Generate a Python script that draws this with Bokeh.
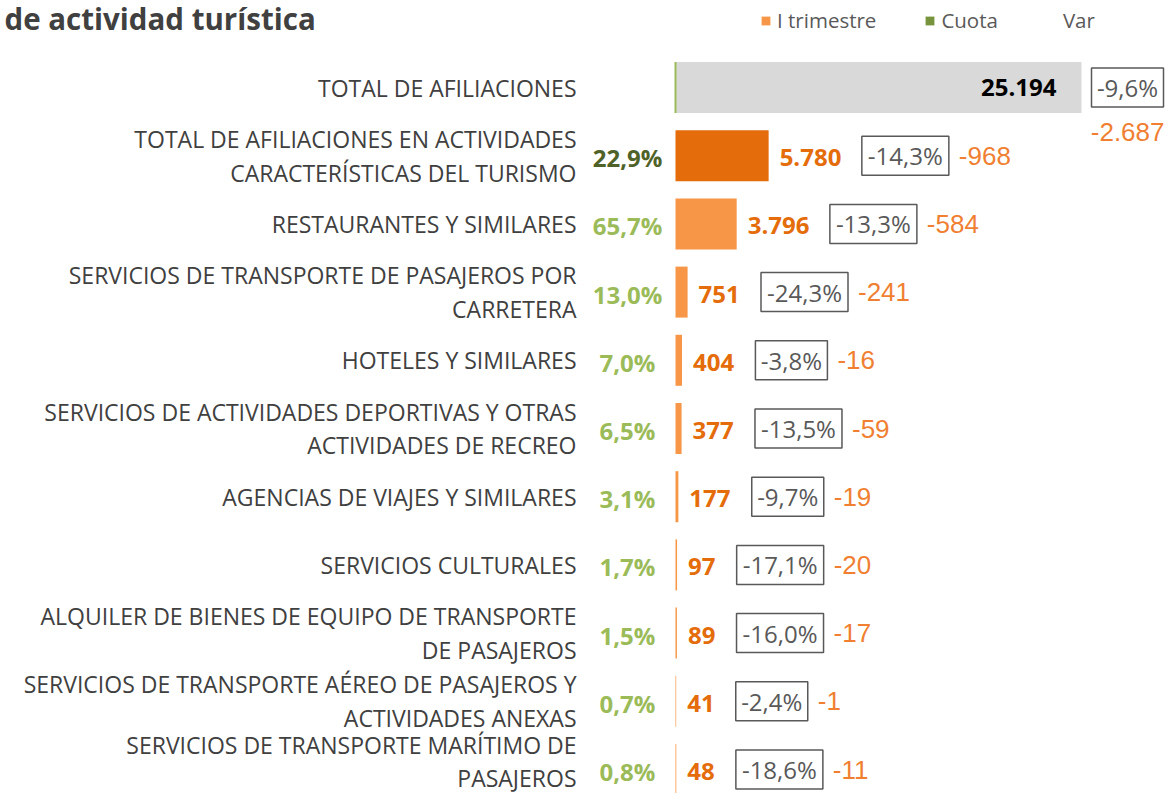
from bokeh.plotting import figure
from bokeh.models import Range1d, Label, Legend, LegendItem, ColumnDataSource
from bokeh.core.properties import value
from bokeh.embed import file_html
from bokeh.resources import INLINE

# ---------------- data ----------------
categories = [
    "TOTAL DE AFILIACIONES",
    "TOTAL DE AFILIACIONES EN ACTIVIDADES\nCARACTERÍSTICAS DEL TURISMO",
    "RESTAURANTES Y SIMILARES",
    "SERVICIOS DE TRANSPORTE DE PASAJEROS POR\nCARRETERA",
    "HOTELES Y SIMILARES",
    "SERVICIOS DE ACTIVIDADES DEPORTIVAS Y OTRAS\nACTIVIDADES DE RECREO",
    "AGENCIAS DE VIAJES Y SIMILARES",
    "SERVICIOS CULTURALES",
    "ALQUILER DE BIENES DE EQUIPO DE TRANSPORTE\nDE PASAJEROS",
    "SERVICIOS DE TRANSPORTE AÉREO DE PASAJEROS Y\nACTIVIDADES ANEXAS",
    "SERVICIOS DE TRANSPORTE MARÍTIMO DE\nPASAJEROS",
]
afiliados = [25194, 5780, 3796, 751, 404, 377, 177, 97, 89, 41, 48]   # I trimestre
cuota = [None, 22.9, 65.7, 13.0, 7.0, 6.5, 3.1, 1.7, 1.5, 0.7, 0.8]   # %
var_pct = [-9.6, -14.3, -13.3, -24.3, -3.8, -13.5, -9.7, -17.1, -16.0, -2.4, -18.6]
var_abs = [-2687, -968, -584, -241, -16, -59, -19, -20, -17, -1, -11]
title_text = "de actividad turística"
legend_labels = ["I trimestre", "Cuota", "Var"]


def fmt_int(n):
    return f"{n:,}".replace(",", ".")


def fmt_pct(v):
    return f"{v:.1f}".replace(".", ",") + "%"


# ---------------- layout ----------------
W, H = 1166, 793
n = len(categories)
idx = list(range(n))

zero_px = 675          # frame x of the value axis origin
full_px = 406          # pixel length of the largest bar
upp = afiliados[0] / full_px  # data units per pixel
x0 = -zero_px * upp
x_range = Range1d(x0, x0 + W * upp)

row_px = 68.2
top_px = 87
y_top = -top_px / row_px
y_range = Range1d(y_top + H / row_px, y_top)

p = figure(width=W, height=H, x_range=x_range, y_range=y_range,
           output_backend="svg", toolbar_location=None, min_border=0)
p.axis.visible = False
p.grid.visible = False
p.outline_line_color = None
p.background_fill_color = "white"

FONT_NAME = "Open Sans"
FONT = value(FONT_NAME)
NUM_FONT = value("Liberation Sans")

# bars
bar_colors = ["#D9D9D9", "#E46C0A"] + ["#F79646"] * (n - 2)
p.hbar(y=idx, left=0, right=afiliados, height=51 / row_px,
       fill_color=bar_colors, line_color=None)
# thin cuota mark on the total bar
p.segment(x0=[0], x1=[0], y0=[-25.5 / row_px], y1=[25.5 / row_px],
          line_color="#9BBB59", line_width=2)

# category labels (last one nudged up so it stays inside the canvas)
cat_src = ColumnDataSource(dict(
    y=idx, text=categories,
    dy=[0] * (n - 1) + [-8],
))
p.text(x=0, y="y", text="text", y_offset="dy", x_offset=-99, source=cat_src,
       text_align="right", text_baseline="middle", text_font=FONT,
       text_font_size="23px", text_color="#404040", text_line_height=1.06)

# cuota labels
c_idx = [i for i in idx if cuota[i] is not None]
c_txt = [fmt_pct(cuota[i]) for i in c_idx]
c_col = ["#4F6228" if i == 1 else "#9BBB59" for i in c_idx]
p.text(x=0, y=c_idx, text=c_txt, x_offset=-48, y_offset=2, text_align="center",
       text_baseline="middle", text_font=FONT, text_font_size="24px",
       text_font_style="bold", text_color=c_col)

# value labels
v_idx = idx[1:]
v_txt = [fmt_int(afiliados[i]) for i in v_idx]
p.text(x=[afiliados[i] for i in v_idx], y=v_idx, text=v_txt, x_offset=11,
       y_offset=2, text_align="left", text_baseline="middle", text_font=FONT,
       text_font_size="24px", text_font_style="bold", text_color="#E46C0A")
p.text(x=[afiliados[0]], y=[0], text=[fmt_int(afiliados[0])], x_offset=-25,
       text_align="right", text_baseline="middle", text_font=FONT,
       text_font_size="24px", text_font_style="bold", text_color="black")

# boxed % variation
box_txt = [fmt_pct(v) for v in var_pct]
box_w = [15 * len(t) - 3 for t in box_txt]
box_left = []
for i in idx:
    if i == 0:
        off = 10
    else:
        s = v_txt[i - 1]
        lw = 13.8 * sum(ch.isdigit() for ch in s) + 6 * s.count(".")
        off = 11 + lw + 21
    box_left.append(afiliados[i] + off * upp)
box_cx = [box_left[i] + box_w[i] / 2 * upp for i in idx]
p.rect(x=box_cx, y=idx, width=box_w, height=39, width_units="screen",
       height_units="screen", fill_color="white", line_color="#595959",
       line_width=1.5)
p.text(x=box_cx, y=idx, text=box_txt, text_align="center",
       text_baseline="middle", text_font=FONT, text_font_size="24px",
       text_color="#595959")

# absolute variation
a_x = [box_left[i] + (box_w[i] + 10) * upp for i in idx[1:]]
p.text(x=a_x, y=idx[1:], text=[fmt_int(v) for v in var_abs[1:]],
       text_align="left", text_baseline="middle",
       text_font=NUM_FONT, text_font_size="26px", text_color="#F07F32")
p.text(x=[box_left[0] + (box_w[0] + 1) * upp], y=[0],
       text=[fmt_int(var_abs[0])], y_offset=44, text_align="right",
       text_baseline="middle", text_font=NUM_FONT, text_font_size="26px",
       text_color="#F07F32")

# title (second line of the original title)
p.add_layout(Label(x=4, y=H - 18, x_units="screen", y_units="screen",
                   text=title_text, text_font=FONT_NAME, text_font_size="29.5px",
                   text_font_style="bold", text_color="#404040",
                   text_baseline="alphabetic"))

# legend (swatches drawn from renderers placed outside the visible range)
far = [y_top - 50]
r1 = p.hbar(y=far, left=[0], right=[1], height=0.5, fill_color="#F79646", line_color=None)
r2 = p.hbar(y=far, left=[0], right=[1], height=0.5, fill_color="#77933C", line_color=None)
r3 = p.hbar(y=far, left=[0], right=[1], height=0.5, fill_alpha=0, line_color=None)
legend = Legend(items=[LegendItem(label=legend_labels[0], renderers=[r1]),
                       LegendItem(label=legend_labels[1], renderers=[r2]),
                       LegendItem(label=legend_labels[2], renderers=[r3])],
                orientation="horizontal", location=(760, H - 34),
                glyph_width=11, glyph_height=11, label_standoff=6,
                spacing=48, padding=0, margin=0,
                background_fill_alpha=0, border_line_color=None,
                label_text_font=FONT_NAME, label_text_font_size="20.5px",
                label_text_color="#595959")
p.add_layout(legend)

open("out.html", "w").write(file_html(p, INLINE))
